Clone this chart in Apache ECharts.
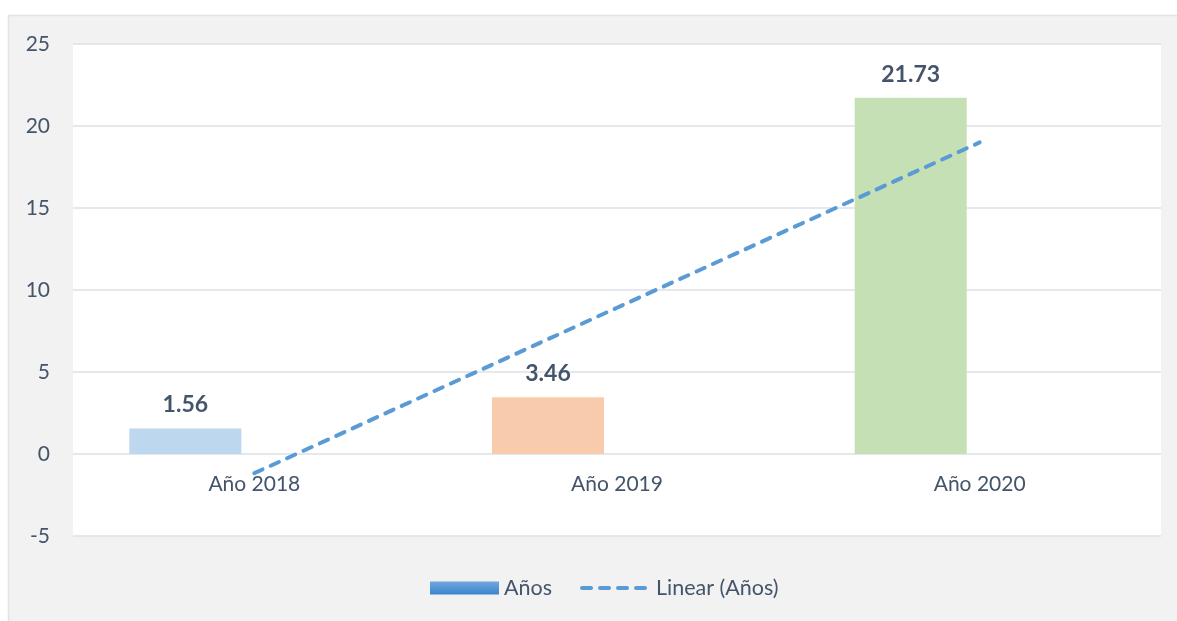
<!DOCTYPE html>
<html><head><meta charset="utf-8">
<script src="https://cdn.jsdelivr.net/npm/echarts@6/dist/echarts.min.js"></script>
<style>html,body{margin:0;padding:0;background:#fff}#c{width:1177px;height:621px}</style>
</head><body><div id="c"></div>
<script>
const categories = ['Año 2018', 'Año 2019', 'Año 2020'];
const barValues = [1.56, 3.46, 21.73];
const barColors = ['#bdd7ee', '#f8cbad', '#c5e0b4'];
const trendValues = [-1.17, 8.92, 19.0];
const yTicks = { min: -5, max: 25, interval: 5 };

const chart = echarts.init(document.getElementById('c'), null, { renderer: 'canvas' });
const txt = '#44546a';
const font = 'Lato, "Open Sans", sans-serif';
const legendGrad = new echarts.graphic.LinearGradient(0, 0, 0, 1, [
  { offset: 0, color: '#72a7dd' }, { offset: 1, color: '#3a84cd' }
]);
chart.setOption({
  animation: false,
  backgroundColor: '#fff',
  graphic: [{
    type: 'rect', z: -10, silent: true,
    shape: { x: 8.5, y: 15.5, width: 1180, height: 620 },
    style: { fill: '#f2f2f2', stroke: '#dfe4ea', lineWidth: 1.5 }
  }],
  grid: { left: 73, right: 16, top: 44, bottom: 85, show: true, backgroundColor: '#fff', borderWidth: 0 },
  legend: {
    bottom: 17, left: 425, itemWidth: 69, itemHeight: 13, itemGap: 28,
    textStyle: { color: txt, fontSize: 21.5, fontFamily: font, padding: [0, 0, 0, 0] },
    data: [
      { name: 'Años', icon: 'rect', itemStyle: { color: legendGrad } },
      { name: 'Linear (Años)', itemStyle: { color: 'rgba(0,0,0,0)', borderWidth: 0, opacity: 0 },
        lineStyle: { width: 4, type: [9, 9], cap: 'round', color: '#5b9bd5' } }
    ]
  },
  xAxis: {
    type: 'category', data: categories, boundaryGap: true, offset: -82,
    axisLine: { show: false },
    axisTick: { show: false },
    axisLabel: { color: txt, fontSize: 21, fontFamily: font, margin: 20 }
  },
  yAxis: {
    type: 'value', min: yTicks.min, max: yTicks.max, interval: yTicks.interval,
    axisLine: { show: false }, axisTick: { show: false },
    splitLine: { lineStyle: { color: '#dde2e8', width: 1.5 } },
    axisLabel: { color: txt, fontSize: 21, fontFamily: font, margin: 23 }
  },
  series: [
    {
      name: 'Años', type: 'bar', barWidth: 112, barGap: '23.2%',
      itemStyle: { color: legendGrad },
      data: barValues.map((v, i) => ({ value: v, itemStyle: { color: barColors[i] } })),
      label: { show: true, position: 'top', distance: 12, color: txt, fontSize: 23, fontWeight: 'bold', fontFamily: font,
        formatter: p => p.value.toFixed(2) }
    },
    {
      name: '_spacer', type: 'bar', barWidth: 112, barGap: '23.2%',
      data: [null, null, null], itemStyle: { color: 'transparent' }
    },
    {
      name: 'Linear (Años)', type: 'line', data: trendValues, symbol: 'none', showSymbol: false, z: 5,
      lineStyle: { color: '#5b9bd5', width: 4, type: [9, 9], cap: 'round' },
      itemStyle: { color: '#5b9bd5' }
    }
  ]
});
</script></body></html>
